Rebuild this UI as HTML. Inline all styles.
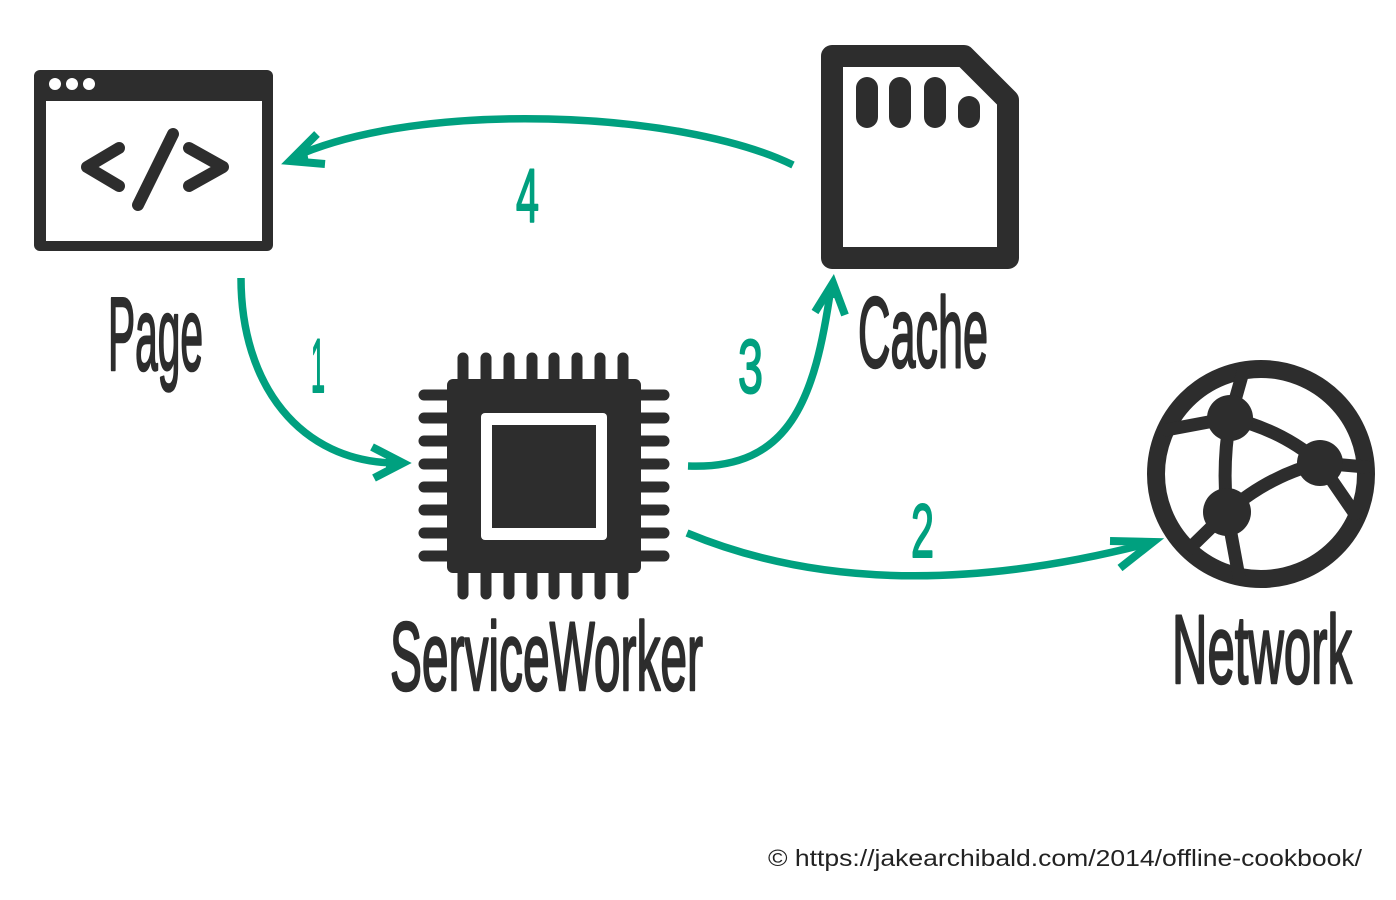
<!DOCTYPE html>
<html>
<head>
<meta charset="utf-8">
<style>
  html,body{margin:0;padding:0;background:#fff;}
  body{width:1396px;height:900px;overflow:hidden;}
  svg{display:block;}
  .lbl{font-family:"Liberation Sans",sans-serif;font-weight:normal;fill:#2d2d2d;stroke:#2d2d2d;stroke-width:2.5;stroke-linejoin:round;}
  .num{font-family:"Liberation Sans",sans-serif;font-weight:normal;fill:#00a07f;stroke:#00a07f;stroke-width:2;stroke-linejoin:round;}
</style>
</head>
<body>
<svg width="1396" height="900" viewBox="0 0 1396 900" xmlns="http://www.w3.org/2000/svg">
  <rect width="1396" height="900" fill="#fff"/>

  <!-- Page (browser window) icon -->
  <rect x="34" y="70" width="239" height="181" rx="6" fill="#2d2d2d"/>
  <rect x="46" y="101" width="216" height="140" fill="#fff"/>
  <circle cx="55" cy="84" r="6" fill="#fff"/>
  <circle cx="72" cy="84" r="6" fill="#fff"/>
  <circle cx="89" cy="84" r="6" fill="#fff"/>
  <g fill="none" stroke="#2d2d2d" stroke-width="12" stroke-linecap="round" stroke-linejoin="round">
    <polyline points="119,148 87,167 119,186"/>
    <polyline points="189,148 223,167 189,186"/>
    <line x1="173" y1="134" x2="138" y2="205"/>
  </g>
  <text class="lbl" x="108" y="370" font-size="104" textLength="95" lengthAdjust="spacingAndGlyphs">Page</text>

  <!-- ServiceWorker chip icon -->
  <g stroke="#2d2d2d" stroke-width="11" stroke-linecap="round">
    <line x1="463" y1="358" x2="463" y2="385"/>
    <line x1="486" y1="358" x2="486" y2="385"/>
    <line x1="509" y1="358" x2="509" y2="385"/>
    <line x1="532" y1="358" x2="532" y2="385"/>
    <line x1="554" y1="358" x2="554" y2="385"/>
    <line x1="577" y1="358" x2="577" y2="385"/>
    <line x1="600" y1="358" x2="600" y2="385"/>
    <line x1="623" y1="358" x2="623" y2="385"/>
    <line x1="463" y1="567" x2="463" y2="594"/>
    <line x1="486" y1="567" x2="486" y2="594"/>
    <line x1="509" y1="567" x2="509" y2="594"/>
    <line x1="532" y1="567" x2="532" y2="594"/>
    <line x1="554" y1="567" x2="554" y2="594"/>
    <line x1="577" y1="567" x2="577" y2="594"/>
    <line x1="600" y1="567" x2="600" y2="594"/>
    <line x1="623" y1="567" x2="623" y2="594"/>
    <line x1="424" y1="395" x2="452" y2="395"/>
    <line x1="424" y1="418" x2="452" y2="418"/>
    <line x1="424" y1="441" x2="452" y2="441"/>
    <line x1="424" y1="464" x2="452" y2="464"/>
    <line x1="424" y1="487" x2="452" y2="487"/>
    <line x1="424" y1="510" x2="452" y2="510"/>
    <line x1="424" y1="533" x2="452" y2="533"/>
    <line x1="424" y1="556" x2="452" y2="556"/>
    <line x1="636" y1="395" x2="664" y2="395"/>
    <line x1="636" y1="418" x2="664" y2="418"/>
    <line x1="636" y1="441" x2="664" y2="441"/>
    <line x1="636" y1="464" x2="664" y2="464"/>
    <line x1="636" y1="487" x2="664" y2="487"/>
    <line x1="636" y1="510" x2="664" y2="510"/>
    <line x1="636" y1="533" x2="664" y2="533"/>
    <line x1="636" y1="556" x2="664" y2="556"/>
  </g>
  <rect x="447" y="379" width="194" height="194" rx="6" fill="#2d2d2d"/>
  <rect x="481" y="413" width="126" height="127" rx="4" fill="#fff"/>
  <rect x="492" y="425" width="104" height="103" fill="#2d2d2d"/>
  <text class="lbl" x="390" y="690" font-size="97" textLength="313" lengthAdjust="spacingAndGlyphs">ServiceWorker</text>

  <!-- Cache (SD card) icon -->
  <path d="M832 56 L964 56 L1008 100 L1008 258 L832 258 Z" fill="none" stroke="#2d2d2d" stroke-width="22" stroke-linejoin="round"/>
  <g stroke="#2d2d2d" stroke-width="22" stroke-linecap="round">
    <line x1="867" y1="88" x2="867" y2="117"/>
    <line x1="900" y1="88" x2="900" y2="117"/>
    <line x1="935" y1="88" x2="935" y2="117"/>
    <line x1="969" y1="107" x2="969" y2="117"/>
  </g>
  <text class="lbl" x="858" y="367" font-size="100" textLength="130" lengthAdjust="spacingAndGlyphs">Cache</text>

  <!-- Network globe icon -->
  <circle cx="1261" cy="474" r="105" fill="none" stroke="#2d2d2d" stroke-width="18"/>
  <g fill="none" stroke="#2d2d2d" stroke-width="13" stroke-linecap="round">
    <path d="M1230 418 L1243 372"/>
    <path d="M1230 418 L1166 430"/>
    <path d="M1230 418 Q1282 430 1320 463"/>
    <path d="M1230 418 Q1222 465 1227 512"/>
    <path d="M1227 512 Q1270 475 1320 463"/>
    <path d="M1320 463 L1366 467"/>
    <path d="M1320 463 L1355 514"/>
    <path d="M1227 512 L1188 550"/>
    <path d="M1227 512 L1239 577"/>
  </g>
  <circle cx="1230" cy="418" r="23" fill="#2d2d2d"/>
  <circle cx="1320" cy="463" r="23" fill="#2d2d2d"/>
  <circle cx="1227" cy="512" r="24" fill="#2d2d2d"/>
  <text class="lbl" x="1172" y="683" font-size="97" textLength="180" lengthAdjust="spacingAndGlyphs">Network</text>

  <!-- Arrows -->
  <g fill="none" stroke="#00a07f" stroke-width="7.5">
    <path d="M241 278 C 241 385, 300 462, 396 463"/>
    <path d="M793 165 C 680 110, 420 100, 294 157"/>
    <path d="M688 466 C 790 470, 815 400, 831 287"/>
    <path d="M687 533 C 800 580, 950 595, 1150 543"/>
  </g>
  <g fill="none" stroke="#00a07f" stroke-width="8" stroke-linejoin="miter">
    <polyline points="372,447 403,463 374,478"/>
    <polyline points="317,134 290,161 325,164"/>
    <polyline points="815,312 833,283 845,315"/>
    <polyline points="1110,541 1153,542 1120,568"/>
  </g>
  <g fill="#00a07f">
    <polygon points="405,463 386,452 386,473"/>
    <polygon points="288,162 306,146 309,163"/>
    <polygon points="834,279 825,297 842,299"/>
    <polygon points="1157,541 1136,540 1139,556"/>
  </g>

  <!-- Step numbers -->
  <text class="num" x="311" y="392" font-size="76" textLength="14" lengthAdjust="spacingAndGlyphs">1</text>
  <text class="num" x="516" y="222" font-size="76" textLength="23" lengthAdjust="spacingAndGlyphs">4</text>
  <text class="num" x="738" y="393" font-size="76" textLength="25" lengthAdjust="spacingAndGlyphs">3</text>
  <text class="num" x="911" y="557" font-size="76" textLength="23" lengthAdjust="spacingAndGlyphs">2</text>

  <!-- Footer -->
  <text x="768" y="866" font-family="Liberation Sans, sans-serif" font-size="23" fill="#222" textLength="594" lengthAdjust="spacingAndGlyphs">© https://jakearchibald.com/2014/offline-cookbook/</text>
</svg>
</body>
</html>
